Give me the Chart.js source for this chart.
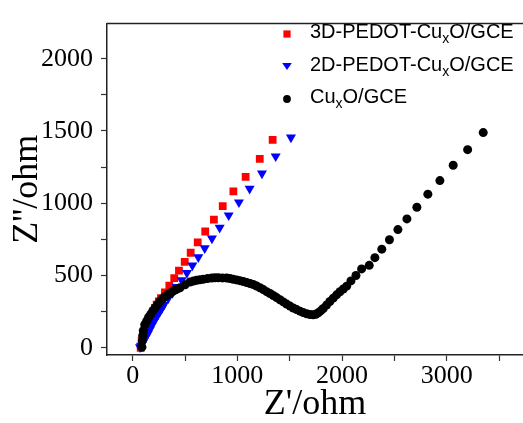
<!DOCTYPE html>
<html>
<head>
<meta charset="utf-8">
<script src="https://cdn.jsdelivr.net/npm/chart.js@4/dist/chart.umd.min.js"></script>
<style>
  html, body { margin: 0; padding: 0; background: #fff; }
  #wrap { width: 523px; height: 423px; }
</style>
</head>
<body>
<div id="wrap"><canvas id="nyquist" width="523" height="423"></canvas></div>
<script>
// Nyquist plots: Z' (real) vs Z'' (imaginary), ohm
const seriesLabels = ['3D-PEDOT-Cu_xO/GCE', '2D-PEDOT-Cu_xO/GCE', 'Cu_xO/GCE'];

const pedot3dRe = [76, 86, 97, 108, 121, 134, 150, 165, 181, 197, 213, 229, 250, 270, 308, 350, 397, 442, 497, 554, 621, 693, 776, 860, 962, 1079, 1214, 1337];
const pedot3dIm = [0, 52, 80, 108, 136, 164, 186, 209, 232, 254, 277, 299, 322, 344, 384, 431, 483, 535, 595, 658, 730, 805, 887, 980, 1083, 1182, 1307, 1438];

const pedot2dRe = [70, 80, 95, 108, 125, 143, 162, 181, 202, 223, 242, 261, 280, 299, 340, 381, 420, 468, 518, 570, 627, 688, 757, 831, 917, 1015, 1117, 1235, 1366, 1512];
const pedot2dIm = [5, 15, 33, 52, 75, 97, 125, 153, 181, 209, 232, 254, 277, 299, 344, 380, 421, 468, 518, 570, 628, 690, 757, 832, 917, 1007, 1101, 1206, 1325, 1456];

const cuxoRe = [88, 92, 96, 101, 115, 134, 152, 172, 192, 213, 237, 261, 285, 308, 332, 356, 380, 404, 428, 452, 500, 547, 580, 611, 642, 674, 715, 755, 786, 818, 858, 898, 930, 961, 993, 1025, 1057, 1089, 1121, 1152, 1184, 1216, 1248, 1280, 1312, 1343, 1375, 1407, 1439, 1471, 1503, 1534, 1566, 1598, 1630, 1662, 1694, 1725, 1750, 1773, 1797, 1821, 1852, 1884, 1916, 1948, 1980, 2012, 2044, 2085, 2133, 2187, 2260, 2314, 2380, 2453, 2534, 2620, 2715, 2820, 2935, 3062, 3200, 3349];
const cuxoIm = [5, 50, 85, 119, 160, 187, 212, 232, 255, 276, 298, 321, 340, 355, 367, 377, 390, 400, 408, 416, 437, 456, 462, 468, 471, 474, 479, 483, 485, 485, 484, 483, 479, 474, 470, 465, 459, 452, 445, 438, 428, 416, 403, 389, 376, 362, 348, 333, 318, 303, 289, 276, 265, 254, 244, 236, 231, 229, 233, 243, 256, 272, 296, 321, 344, 367, 388, 407, 427, 463, 501, 546, 571, 624, 683, 748, 818, 892, 973, 1063, 1157, 1263, 1371, 1489];

// Tick positions (every mark) and the ones that carry a label
const xTicks = [0, 500, 1000, 1500, 2000, 2500, 3000, 3500];
const xTickLabels = ['0', '', '1000', '', '2000', '', '3000', ''];
const yTicks = [0, 250, 500, 750, 1000, 1250, 1500, 1750, 2000];
const yTickLabels = ['0', '', '500', '', '1000', '', '1500', '', '2000'];

function pairs(xs, ys) {
  return xs.map((x, i) => ({ x: x, y: ys[i] }));
}

const markers = [
  { style: 'rect', color: '#ff0000', radius: 5.5, rotation: 0, order: 3 },
  { style: 'triangle', color: '#0000ff', radius: 5.8, rotation: 180, order: 2 },
  { style: 'circle', color: '#000000', radius: 4.5, rotation: 0, order: 1 }
];
const seriesData = [
  pairs(pedot3dRe, pedot3dIm),
  pairs(pedot2dRe, pedot2dIm),
  pairs(cuxoRe, cuxoIm)
];

const datasets = seriesLabels.map((label, i) => ({
  label: label,
  data: seriesData[i],
  showLine: false,
  pointStyle: markers[i].style,
  pointRadius: markers[i].radius,
  pointRotation: markers[i].rotation,
  pointBackgroundColor: markers[i].color,
  pointBorderColor: markers[i].color,
  pointBorderWidth: 0,
  order: markers[i].order
}));

// Draws the plot frame's top edge
const frameTop = {
  id: 'frameTop',
  afterDraw(chart) {
    const { ctx, chartArea } = chart;
    ctx.save();
    ctx.strokeStyle = '#222';
    ctx.lineWidth = 1.5;
    ctx.beginPath();
    ctx.moveTo(chartArea.left, chartArea.top);
    ctx.lineTo(chartArea.right, chartArea.top);
    ctx.stroke();
    ctx.restore();
  }
};

// Legend with subscripted "x" in the labels
function drawMarker(ctx, m, x, y, r) {
  ctx.save();
  ctx.fillStyle = m.color;
  ctx.beginPath();
  if (m.style === 'rect') {
    ctx.rect(x - r, y - r, 2 * r, 2 * r);
  } else if (m.style === 'triangle') {
    const h = r * 1.5;
    ctx.moveTo(x - r, y - h / 2);
    ctx.lineTo(x + r, y - h / 2);
    ctx.lineTo(x, y + h / 2);
    ctx.closePath();
  } else {
    ctx.arc(x, y, r, 0, Math.PI * 2);
  }
  ctx.fill();
  ctx.restore();
}

const subLegend = {
  id: 'subLegend',
  afterDraw(chart) {
    const ctx = chart.ctx;
    const mx = 287, tx = 310, markerY0 = 34, baseY0 = 38.3, dy = 32.5;
    const mainFont = '20px "Liberation Sans", Arial, sans-serif';
    const subFont = '14px "Liberation Sans", Arial, sans-serif';
    const sizes = [3.6, 4.8, 3.9];
    chart.data.datasets.forEach((ds, i) => {
      drawMarker(ctx, markers[i], mx, markerY0 + i * dy, sizes[i]);
      const y = baseY0 + i * dy;
      ctx.save();
      ctx.fillStyle = '#000';
      ctx.textBaseline = 'alphabetic';
      ctx.textAlign = 'left';
      let x = tx;
      ds.label.split('_').forEach((part, k) => {
        if (k === 0) {
          ctx.font = mainFont;
          ctx.fillText(part, x, y);
          x += ctx.measureText(part).width;
        } else {
          const sub = part.charAt(0), rest = part.slice(1);
          ctx.font = subFont;
          ctx.fillText(sub, x, y + 5);
          x += ctx.measureText(sub).width;
          ctx.font = mainFont;
          ctx.fillText(rest, x, y);
          x += ctx.measureText(rest).width;
        }
      });
      ctx.restore();
    });
  }
};

const tickFont = { family: '"Liberation Serif", "Times New Roman", serif', size: 26 };
const titleFont = { family: '"Liberation Serif", "Times New Roman", serif', size: 36, lineHeight: 1 };

new Chart(document.getElementById('nyquist'), {
  type: 'scatter',
  data: { datasets: datasets },
  options: {
    responsive: false,
    animation: false,
    layout: { autoPadding: false, padding: { top: 15, right: 0, left: 0, bottom: 0 } },
    plugins: { legend: { display: false }, tooltip: { enabled: false } },
    scales: {
      x: {
        type: 'linear',
        min: -245.5,
        max: 3729,
        afterBuildTicks(scale) {
          scale.ticks = xTicks.map(v => ({ value: v }));
        },
        afterFit(scale) { scale.height = 68; },
        ticks: {
          font: tickFont,
          color: '#000',
          padding: 0,
          maxRotation: 0,
          autoSkip: false,
          callback: (v, i) => xTickLabels[i]
        },
        grid: {
          drawOnChartArea: false,
          drawTicks: true,
          tickLength: 6,
          tickColor: '#333',
          tickWidth: 1.2
        },
        border: { display: true, color: '#222', width: 1.5 },
        title: {
          display: true,
          text: "Z'/ohm",
          font: titleFont,
          color: '#000',
          padding: { top: 0, bottom: 0 }
        }
      },
      y: {
        type: 'linear',
        min: -49.2,
        max: 2242.7,
        afterBuildTicks(scale) {
          scale.ticks = yTicks.map(v => ({ value: v }));
        },
        afterFit(scale) { scale.width = 107; },
        ticks: {
          font: tickFont,
          color: '#000',
          padding: 8,
          autoSkip: false,
          callback: (v, i) => yTickLabels[i]
        },
        grid: {
          drawOnChartArea: false,
          drawTicks: true,
          tickLength: 6,
          tickColor: '#333',
          tickWidth: 1.2
        },
        border: { display: true, color: '#222', width: 1.5 },
        title: {
          display: true,
          text: "Z''/ohm",
          font: titleFont,
          color: '#000',
          padding: { top: 10, bottom: 0 }
        }
      }
    }
  },
  plugins: [frameTop, subLegend]
});
</script>
</body>
</html>
